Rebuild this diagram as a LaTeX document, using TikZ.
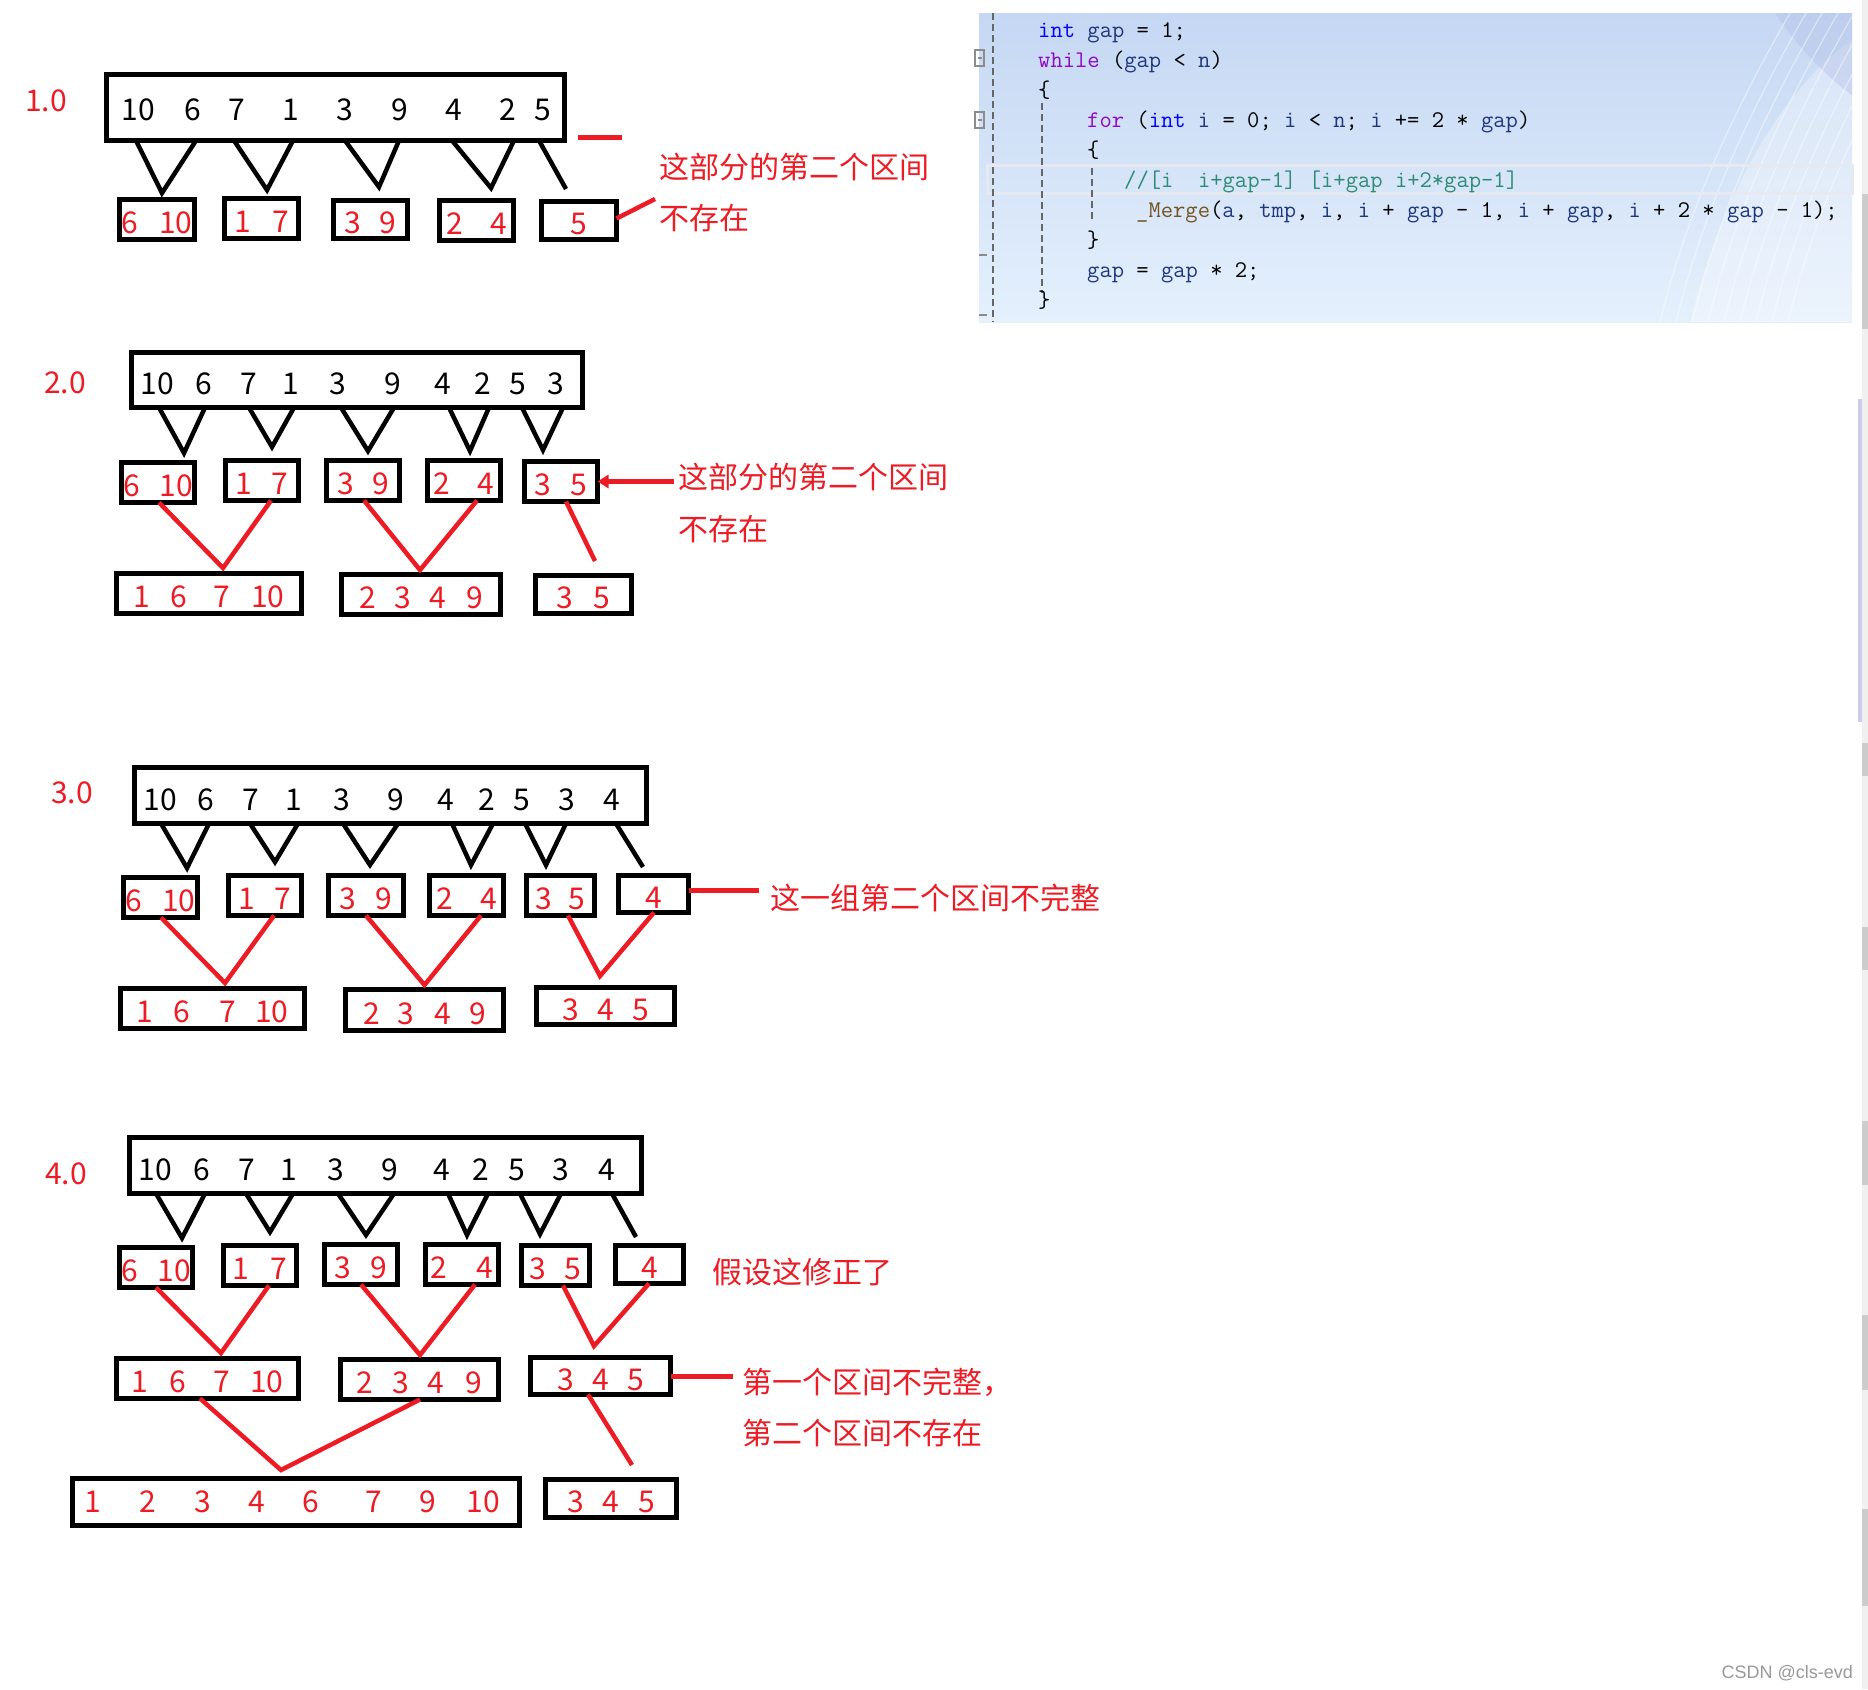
\documentclass[tikz,border=0pt]{standalone}
\usepackage{fontspec}
\setmainfont{Noto Sans CJK SC}
\newfontfamily\wmfont{Liberation Sans}
\usetikzlibrary{arrows.meta}

\definecolor{paintred}{HTML}{ED1C24}
\definecolor{kwblue}{HTML}{0000FF}
\definecolor{kwpurple}{HTML}{8F08C4}
\definecolor{fnbrown}{HTML}{74531F}
\definecolor{cmtgreen}{HTML}{2E8B74}
\definecolor{varnavy}{HTML}{1F377F}
\definecolor{codetop}{HTML}{C5D7F3}
\definecolor{codebot}{HTML}{E4F0FC}
\definecolor{codehl}{HTML}{E6EAF0}

\newcommand{\numfont}{\fontsize{30pt}{36pt}\selectfont}
\newcommand{\notefont}{\fontsize{30pt}{51.5pt}\selectfont}
\newcommand{\codefont}{\ttfamily\fontsize{23.9pt}{30pt}\selectfont}
\newcommand{\gp}[1]{\hspace{#1pt}}
% box given by its outer corners
\newcommand{\numbox}[7][sbox]{%
  \pgfmathsetmacro\bw{#5-#3-5}\pgfmathsetmacro\bh{#6-#4-5}%
  \node[#1, minimum width=\bw pt, minimum height=\bh pt] (#2) at ({(#3+#5)/2},{(#4+#6)/2}) {#7};}
% black split: big box -> small box
\newcommand{\blkvee}[6]{\draw[vlink] (#1,0 |- #3.south) -- ([xshift=#5pt,yshift=#6pt]#4.north) -- (#2,0 |- #3.south);}
% red merge: two boxes -> merged box
\newcommand{\redvee}[7]{\draw[rlink] ([xshift=#2pt]#1.south) -- ([xshift=#4pt,yshift=#5pt]#3.north) -- ([xshift=#7pt]#6.south);}

\begin{document}
\begin{tikzpicture}[x=1pt, y=-1pt,
  sbox/.style={draw, line width=5pt, inner sep=0pt, outer sep=0pt, text=paintred, font=\numfont, text height=28pt, text depth=0pt},
  bigbox/.style={draw, line width=5pt, inner sep=0pt, outer sep=0pt},
  num/.style={inner sep=0pt, font=\numfont},
  lbl/.style={inner sep=0pt, font=\numfont, text=paintred},
  note/.style={inner sep=0pt, font=\notefont, text=paintred, align=left, anchor=west},
  vlink/.style={line width=4.5pt},
  rlink/.style={paintred, line width=4.5pt},
  rdash/.style={paintred, line width=5pt},
  code/.style={inner sep=0pt, anchor=base west, font=\codefont},
  guide/.style={black!60, line width=1.5pt, dash pattern=on 7pt off 4pt},
  wmark/.style={inner sep=0pt, anchor=east, font=\wmfont\fontsize{18pt}{20pt}\selectfont, text=black!40}
]
\fill[white] (0,0) rectangle (1868,1689);
\useasboundingbox (0,0) rectangle (1868,1689);

% code screenshot
\shade[top color=codetop, bottom color=codebot] (979,13) rectangle (1852,322);
\begin{scope}
  \clip (979,13) rectangle (1852,322);
  \fill[white, opacity=0.3] (1690,322) .. controls (1720,200) and (1780,90) .. (1852,40) -- (1852,322) -- cycle;
  \fill[cyan!40!blue!30, opacity=0.4] (1775,13) .. controls (1800,50) and (1830,80) .. (1852,95) -- (1852,13) -- cycle;
  \foreach \a in {0,16,...,128}
    \draw[white, opacity=0.45, line width=1.2pt] ({1660+\a},322) .. controls ({1690+\a},200) and ({1740+\a},100) .. ({1790+\a},13);
\end{scope}
\draw[codehl, line width=3pt] (987,165) rectangle (1852,193);
\draw[guide] (993,13) -- (993,322);
\draw[guide] (1042,103) -- (1042,293);
\draw[guide] (1092,168) -- (1092,222);
\draw[black!45, line width=1.2pt] (975,50) rectangle (984,66) (978,58) -- (982,58);
\draw[black!45, line width=1.2pt] (975,112) rectangle (984,128) (978,120) -- (982,120);
\draw[black!45, line width=1.5pt] (979,255) -- (987,255) (979,315) -- (987,315);
\node[code] (c1) at (1038,37) {\textcolor{kwblue}{int} \textcolor{varnavy}{gap} = 1;};
\node[code] (c2) at (1038,67.1) {\textcolor{kwpurple}{while} (\textcolor{varnavy}{gap} < \textcolor{varnavy}{n})};
\node[code] (c3) at (1038,97.2) {\{};
\node[code] (c4) at (1087,127.3) {\textcolor{kwpurple}{for} (\textcolor{kwblue}{int} \textcolor{varnavy}{i} = 0; \textcolor{varnavy}{i} < \textcolor{varnavy}{n}; \textcolor{varnavy}{i} += 2 * \textcolor{varnavy}{gap})};
\node[code] (c5) at (1087,157.4) {\{};
\node[code, text=cmtgreen] (c6) at (1124,187.5) {//[i~~i+gap-1] [i+gap i+2*gap-1]};
\node[code] (c7) at (1136,217.6) {\textcolor{fnbrown}{\_Merge}(\textcolor{varnavy}{a}, \textcolor{varnavy}{tmp}, \textcolor{varnavy}{i}, \textcolor{varnavy}{i} + \textcolor{varnavy}{gap} - 1, \textcolor{varnavy}{i} + \textcolor{varnavy}{gap}, \textcolor{varnavy}{i} + 2 * \textcolor{varnavy}{gap} - 1);};
\node[code] (c8) at (1087,247.7) {\}};
\node[code] (c9) at (1087,277.8) {\textcolor{varnavy}{gap} = \textcolor{varnavy}{gap} * 2;};
\node[code] (c10) at (1038,307.9) {\}};

% 1.0
\node[lbl] (L1) at (46,101) {1.0};
\numbox[bigbox]{B1}{104}{72}{567}{143}{}
\foreach \x/\d in {138/10,193/6,237/7,291/1,345/3,400/9,454/4,508/2,543/5}
  \node[num] (p1-\x) at (\x,110) {\d};
\numbox{b1a}{117}{197}{197}{242}{6\gp{21}10}
\numbox{b1b}{222}{196}{301}{241}{1\gp{21}7}
\numbox{b1c}{331}{198}{410}{241}{3\gp{19}9}
\numbox{b1d}{437}{198}{516}{243}{2\gp{27}4}
\numbox{b1e}{539}{199}{619}{242}{5\gp{12}}
\blkvee{136}{196}{B1}{b1a}{5}{6.5}
\blkvee{234}{293}{B1}{b1b}{5.5}{8.5}
\blkvee{345}{399}{B1}{b1c}{8.5}{13.5}
\blkvee{452}{514}{B1}{b1d}{14.5}{12.5}
\draw[vlink] (539,0 |- B1.south) -- ([xshift=-13pt,yshift=12.5pt]b1e.north);
\node[note] (n1) at (659,192.5) {这部分的第二个区间\\不存在};
\draw[rdash] ([shift={(13.5,-3.5)}]B1.south east) -- ++(44,0);
\draw[rlink] ([yshift=2pt]b1e.east) -- ([xshift=-4pt,yshift=-6.5pt]n1.west);

% 2.0
\node[lbl] (L2) at (65,383) {2.0};
\numbox[bigbox]{B2}{129}{350}{585}{410}{}
\foreach \x/\d in {157/10,204/6,249/7,291/1,338/3,393/9,443/4,483/2,518/5,556/3}
  \node[num] (p2-\x) at (\x,384) {\d};
\numbox{b2a}{119}{460}{197}{505}{6\gp{20}10}
\numbox{b2b}{223}{458}{301}{503}{1\gp{20}7}
\numbox{b2c}{324}{458}{402}{503}{3\gp{18}9}
\numbox{b2d}{425}{458}{503}{503}{2\gp{28}4}
\numbox{b2e}{522}{459}{600}{504}{3\gp{19}5}
\blkvee{159}{205}{B2}{b2a}{26}{9.5}
\blkvee{249}{294}{B2}{b2b}{10}{13.5}
\blkvee{341}{394}{B2}{b2c}{5}{9.5}
\blkvee{449}{489}{B2}{b2d}{6}{9.5}
\blkvee{522}{563}{B2}{b2e}{-18}{11.5}
\numbox{m2a}{114}{571}{304}{616}{1\gp{20}6\gp{27}7\gp{21}10}
\numbox{m2b}{339}{572}{503}{617}{2\gp{19}3\gp{18}4\gp{20}9}
\numbox{m2c}{533}{573}{634}{616}{3\gp{20}5\gp{8}}
\redvee{b2a}{1}{m2a}{14}{5.5}{b2b}{9}
\redvee{b2c}{1}{m2b}{-1}{4.5}{b2d}{13}
\draw[rlink] ([xshift=5pt]b2e.south) -- ([xshift=11.5pt,yshift=14.5pt]m2c.north);
\node[note] (n2) at (678,503) {这部分的第二个区间\\不存在};
\draw[rlink, -{Triangle[length=11pt,width=13pt]}] ([xshift=-4pt]n2.west |- b2e.east) -- (b2e.east);

% 3.0
\node[lbl] (L3) at (72,793) {3.0};
\numbox[bigbox]{B3}{132}{765}{649}{826}{}
\foreach \x/\d in {160/10,206/6,251/7,294/1,342/3,396/9,446/4,487/2,522/5,567/3,612/4}
  \node[num] (p3-\x) at (\x,800) {\d};
\numbox{b3a}{121}{875}{200}{920}{6\gp{20}10}
\numbox{b3b}{226}{873}{304}{918}{1\gp{20}7}
\numbox{b3c}{326}{873}{406}{918}{3\gp{19}9}
\numbox{b3d}{427}{873}{506}{918}{2\gp{27}4}
\numbox{b3e}{524}{873}{597}{918}{3\gp{17}5}
\numbox{b3f}{616}{873}{691}{915}{4\gp{19}}
\blkvee{161}{209}{B3}{b3a}{26.5}{9.5}
\blkvee{250}{298}{B3}{b3b}{10}{13.5}
\blkvee{343}{398}{B3}{b3c}{4}{10.5}
\blkvee{452}{493}{B3}{b3d}{4.5}{10.5}
\blkvee{525}{566}{B3}{b3e}{-14.5}{10.5}
\draw[vlink] (616,0 |- B3.south) -- ([xshift=-10.5pt,yshift=8.5pt]b3f.north);
\numbox{m3a}{118}{986}{307}{1031}{1\gp{20}6\gp{30}7\gp{19}10}
\numbox{m3b}{343}{987}{506}{1033}{2\gp{18}3\gp{20}4\gp{18}9}
\numbox{m3c}{534}{985}{677}{1027}{3\gp{19}4\gp{18}5\gp{10}}
\redvee{b3a}{0.5}{m3a}{12.5}{5.5}{b3b}{9}
\redvee{b3c}{0}{m3b}{0}{4.5}{b3d}{14.5}
\redvee{b3e}{7.5}{m3c}{-5.5}{11.5}{b3f}{0.5}
\node[note] (n3) at (770,898) {这一组第二个区间不完整};
\draw[rdash] ([yshift=4pt]b3f.east) -- ++(70,0);

% 4.0
\node[lbl] (L4) at (66,1174) {4.0};
\numbox[bigbox]{B4}{127}{1135}{644}{1196}{}
\foreach \x/\d in {155/10,202/6,247/7,289/1,336/3,390/9,442/4,481/2,517/5,561/3,607/4}
  \node[num] (p4-\x) at (\x,1170) {\d};
\numbox{b4a}{117}{1245}{195}{1290}{6\gp{20}10}
\numbox{b4b}{221}{1243}{299}{1288}{1\gp{21}7}
\numbox{b4c}{322}{1242}{400}{1287}{3\gp{19}9}
\numbox{b4d}{423}{1242}{501}{1287}{2\gp{29}4}
\numbox{b4e}{519}{1243}{592}{1288}{3\gp{19}5}
\numbox{b4f}{613}{1243}{686}{1286}{4\gp{20}}
\blkvee{156}{205}{B4}{b4a}{26}{9.5}
\blkvee{246}{293}{B4}{b4b}{10}{13.5}
\blkvee{338}{394}{B4}{b4c}{5}{9.5}
\blkvee{448}{488}{B4}{b4d}{5}{9.5}
\blkvee{520}{561}{B4}{b4e}{-15.5}{11.5}
\draw[vlink] (612,0 |- B4.south) -- ([xshift=-13.5pt,yshift=8.5pt]b4f.north);
\node[note] (n4) at (712,1272) {假设这修正了};
\numbox{m4a}{114}{1356}{301}{1401}{1\gp{21}6\gp{28}7\gp{20}10}
\numbox{m4b}{338}{1357}{501}{1402}{2\gp{19}3\gp{19}4\gp{21}9}
\numbox{m4c}{528}{1355}{673}{1397}{3\gp{19}4\gp{18}5\gp{11}}
\redvee{b4a}{0}{m4a}{13.5}{5.5}{b4b}{9}
\redvee{b4c}{0}{m4b}{0.5}{4.5}{b4d}{13}
\redvee{b4e}{7.5}{m4c}{-6.5}{11.5}{b4f}{-0.5}
\node[note] (n5) at (742,1407.5) {第一个区间不完整，\\第二个区间不存在};
\draw[rdash] (m4c.east) -- ++(62,0);
\numbox[bigbox]{F4}{70}{1476}{522}{1528}{}
\foreach \x/\d in {93/1,148/2,203/3,257/4,311/6,374/7,428/9,483/10}
  \node[num, text=paintred] (p5-\x) at (\x,1502) {\d};
\numbox{c4}{543}{1477}{679}{1520}{3\gp{19}4\gp{19}5\gp{14}}
\redvee{m4a}{-7.5}{F4}{-15}{8.5}{m4b}{0.5}
\draw[rlink] ([xshift=-12.5pt]m4c.south) -- ([xshift=21pt,yshift=14.5pt]c4.north);

% right edge and watermark
\fill[black!6] (1862,0) rectangle (1868,1689);
\foreach \a/\b in {194/329,743/776,927/970,1121/1185,1315/1390,1509/1606}
  \fill[black!20] (1862,\a) rectangle (1868,\b);
\fill[cyan!25!blue!20] (1858,399) rectangle (1862,722);
\node[wmark] (wm) at (1853,1673) {CSDN @cls-evd};
\end{tikzpicture}
\end{document}
